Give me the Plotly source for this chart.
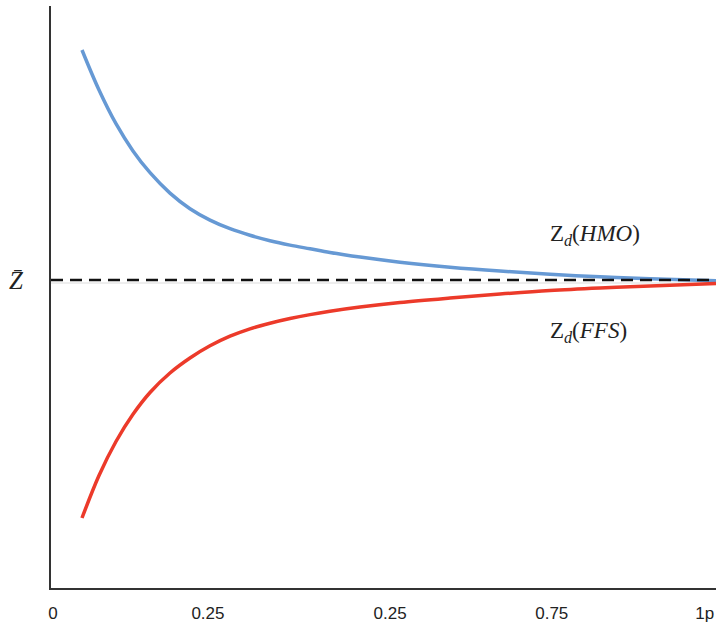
import plotly.graph_objects as go

# x positions (fraction of the horizontal axis)
x_vals = [0.0466, 0.0722, 0.0977, 0.1233, 0.1489, 0.1789, 0.2090, 0.2391, 0.2692,
          0.2992, 0.3293, 0.3594, 0.3895, 0.4195, 0.4647, 0.5248, 0.6000, 0.6752,
          0.7504, 0.8256, 0.9008, 1.0]
# Z_d(HMO) relative to Z-bar
hmo_vals = [2.30, 1.90, 1.563, 1.291, 1.073, 0.869, 0.713, 0.599, 0.513, 0.447,
            0.393, 0.349, 0.312, 0.275, 0.229, 0.178, 0.128, 0.089, 0.057, 0.032,
            0.012, -0.008]
# Z_d(FFS) relative to Z-bar
ffs_vals = [-2.38, -1.955, -1.615, -1.343, -1.125, -0.93, -0.78, -0.658, -0.562,
            -0.488, -0.432, -0.385, -0.346, -0.313, -0.271, -0.225, -0.18, -0.14,
            -0.105, -0.08, -0.06, -0.035]
zbar_val = 0.0

tick_labels = ["0", "0.25", "0.25", "0.75", "1p"]
tick_pos = [0.003, 0.236, 0.51, 0.753, 0.983]

fig = go.Figure()

# faint grey line under dashed mean line
fig.add_trace(go.Scatter(x=[0, 1], y=[zbar_val - 0.03, zbar_val - 0.03], mode="lines",
                         line=dict(color="#dcdcdc", width=1), hoverinfo="skip",
                         showlegend=False))
fig.add_trace(go.Scatter(x=x_vals, y=hmo_vals, mode="lines",
                         line=dict(color="#6699d4", width=3.5, shape="spline"),
                         showlegend=False))
fig.add_trace(go.Scatter(x=x_vals, y=ffs_vals, mode="lines",
                         line=dict(color="#ec3a2a", width=3.5, shape="spline"),
                         showlegend=False))
fig.add_trace(go.Scatter(x=[0, 1], y=[zbar_val, zbar_val], mode="lines",
                         line=dict(color="#111111", width=2.5, dash="12px,7px"),
                         showlegend=False))

serif = "Liberation Serif, Times New Roman, serif"
fig.add_annotation(x=(548 - 51) / 665, y=0.45, xref="x", yref="y", showarrow=False,
                   xanchor="left", yanchor="middle",
                   text="Z<sub><i>d</i></sub>(<i>HMO</i>)",
                   font=dict(family=serif, size=23, color="#222222"))
fig.add_annotation(x=(548 - 51) / 665, y=-0.52, xref="x", yref="y", showarrow=False,
                   xanchor="left", yanchor="middle",
                   text="Z<sub><i>d</i></sub>(<i>FFS</i>)",
                   font=dict(family=serif, size=23, color="#222222"))
fig.add_annotation(x=(16 - 51) / 665, y=zbar_val, xref="paper", yref="y", showarrow=False,
                   xanchor="center", yanchor="middle",
                   text="<i>Z\u0304</i>",
                   font=dict(family=serif, size=25, color="#222222"))

fig.update_layout(
    width=716, height=624,
    margin=dict(l=51, r=0, t=6, b=36),
    plot_bgcolor="white", paper_bgcolor="white",
    xaxis=dict(range=[0, 1], showgrid=False, zeroline=False, showline=True,
               linecolor="#333333", linewidth=2, ticks="",
               tickvals=tick_pos, ticktext=tick_labels, ticklabelstandoff=9,
               tickfont=dict(family="Liberation Sans, Arial, sans-serif", size=17,
                             color="#222222")),
    yaxis=dict(range=[-3.08, 2.74], showgrid=False, zeroline=False, showline=True,
               linecolor="#333333", linewidth=2, showticklabels=False, ticks=""),
)

fig.write_html("out.html", config={"displayModeBar": False},
               post_script="document.body.style.margin='0';document.body.style.overflow='hidden';")
